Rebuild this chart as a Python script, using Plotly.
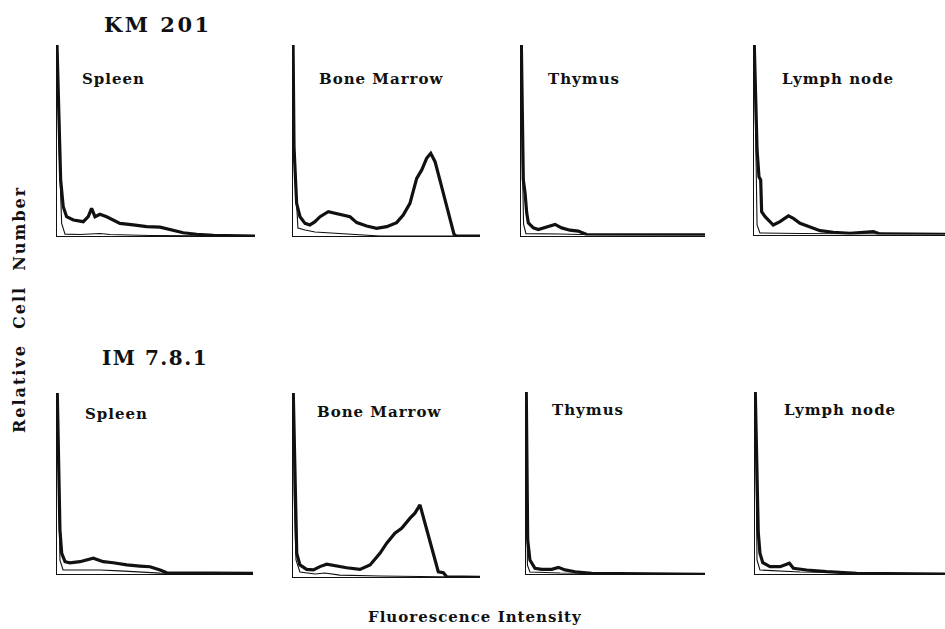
import plotly.graph_objects as go

W, H = 945, 629

# ---------------- data (channel 0-100, relative count 0-100) ----------------
km_spleen_x = [0.15, 1.2, 2.0, 3.3, 5.0, 8.4, 13.4, 15.9, 17.6, 19.3, 21.8, 25.2, 28.5, 31.9, 38.6, 45.4, 52.1, 58.8, 63.8, 70.6, 79.0, 100]
km_spleen_y = [100, 60.7, 29.3, 15.3, 10.1, 8.4, 7.5, 10.1, 14.5, 10.1, 11.4, 10.1, 8.4, 6.6, 5.8, 4.9, 4.6, 3.1, 1.7, 0.9, 0.4, 0]
km_spleen_cx = [0.15, 1.2, 2.5, 4.2, 11.7, 19.3, 21.8, 26.9, 37, 47, 100]
km_spleen_cy = [100, 45, 6.6, 1.0, 0.8, 1.0, 1.3, 0.8, 0.5, 0.3, 0]

km_bm_x = [0.2, 0.7, 2.1, 3.9, 6.6, 9.2, 11.9, 14.6, 19.0, 22.6, 27.0, 30.6, 34.2, 39.5, 44.8, 50.2, 55.5, 59.0, 62.6, 66.2, 68.9, 71.5, 73.7, 76.0, 78.6, 81.3, 84.0, 86.1, 87.2, 100]
km_bm_y = [100, 46.8, 17.1, 10.1, 6.6, 5.8, 7.5, 10.1, 12.7, 11.9, 11.0, 10.1, 7.0, 5.2, 4.0, 4.9, 7.0, 11.0, 17.1, 30.2, 34.6, 40.7, 43.3, 38.9, 29.3, 18.8, 8.4, 1.0, 0, 0]
km_bm_cx = [0.2, 0.8, 2.8, 6.6, 11.9, 19.9, 30.6, 35.9, 46.6, 100]
km_bm_cy = [100, 40, 4.2, 3.1, 2.1, 1.6, 1.0, 0.5, 0, 0]

km_thy_x = [0.2, 0.7, 1.25, 2.2, 3.1, 4.0, 6.7, 9.4, 13.0, 18.5, 22.1, 26.6, 31.1, 35.7, 45.7, 100]
km_thy_y = [100, 60.7, 29.3, 22.4, 11.9, 6.6, 4.0, 3.1, 4.3, 5.8, 4.0, 2.8, 2.3, 0.5, 0.4, 0.3]
km_thy_cx = [0.2, 0.7, 1.4, 2.7, 21, 43, 100]
km_thy_cy = [100, 39.8, 5.8, 1.0, 0.8, 0.3, 0]

km_ln_x = [0.15, 0.8, 1.6, 2.6, 3.5, 4.0, 5.8, 10.1, 13.6, 18.0, 20.6, 24.1, 29.3, 34.6, 41.5, 50.3, 62.5, 66.0, 100]
km_ln_y = [100, 71, 44.6, 30.5, 28.8, 12.0, 9.4, 5.0, 6.8, 9.8, 8.5, 5.9, 4.1, 2.0, 1.2, 0.6, 1.5, 0.3, 0.1]
km_ln_cx = [0.15, 0.8, 1.6, 3.1, 24, 100]
km_ln_cy = [100, 50, 5, 0.8, 0.5, 0]

im_spleen_x = [0.15, 0.8, 1.5, 2.4, 4.1, 6.6, 11.7, 18.5, 23.6, 28.7, 35.6, 42.3, 47.4, 52.6, 56, 100]
im_spleen_y = [100, 57, 24.3, 11.4, 6.8, 6.2, 6.8, 8.7, 6.8, 6.2, 5.0, 4.4, 4.0, 2.2, 0.7, 0.3]
im_spleen_cx = [0.15, 0.8, 1.5, 3.1, 22, 32, 52.6, 100]
im_spleen_cy = [100, 40, 7.7, 2.2, 2.2, 1.7, 0.5, 0]

im_bm_x = [0.15, 0.5, 1.1, 2.0, 3.7, 7.3, 10.9, 14.4, 18.0, 23.4, 28.7, 35.8, 41.2, 46.5, 50.1, 54.5, 58.1, 62.6, 65.2, 67.9, 70.1, 72.4, 75.0, 77.7, 80.4, 82.2, 100]
im_bm_y = [100, 80, 52.9, 13.0, 6.7, 4.3, 4.0, 5.8, 7.1, 6.1, 5.2, 4.3, 6.7, 13.0, 18.5, 23.9, 26.6, 32.1, 34.8, 39.3, 31.1, 23.9, 13.0, 3.0, 2.5, 0.3, 0]
im_bm_cx = [0.15, 0.6, 1.6, 3.7, 11.8, 17, 25, 46.5, 100]
im_bm_cy = [100, 45, 9.4, 2.9, 1.8, 2.3, 1.2, 0.7, 0]

im_thy_x = [0.15, 0.45, 0.95, 2.2, 5.0, 8.8, 14.4, 18.1, 21.8, 27.4, 36.7, 100]
im_thy_y = [100, 68, 18.8, 7.8, 3.3, 2.7, 2.7, 3.8, 2.4, 1.4, 0.5, 0]
im_thy_cx = [0.15, 0.45, 0.8, 2.2, 19, 100]
im_thy_cy = [100, 45, 5, 1.3, 0.7, 0]

im_ln_x = [0.15, 0.5, 1.05, 1.7, 2.6, 4.1, 7.9, 13.2, 18.1, 20.2, 27.2, 37.7, 53.5, 100]
im_ln_y = [100, 79, 51.6, 23.2, 11.4, 6.2, 4.0, 4.0, 5.9, 3.1, 2.2, 1.3, 0.4, 0]
im_ln_cx = [0.15, 0.5, 1.05, 2.6, 23.7, 100]
im_ln_cy = [100, 45, 7.7, 2.2, 1.1, 0]

tissues = ["Spleen", "Bone Marrow", "Thymus", "Lymph node"]
antibodies = ["KM 201", "IM 7.8.1"]

panels = [
    (km_spleen_x, km_spleen_y, km_spleen_cx, km_spleen_cy),
    (km_bm_x, km_bm_y, km_bm_cx, km_bm_cy),
    (km_thy_x, km_thy_y, km_thy_cx, km_thy_cy),
    (km_ln_x, km_ln_y, km_ln_cx, km_ln_cy),
    (im_spleen_x, im_spleen_y, im_spleen_cx, im_spleen_cy),
    (im_bm_x, im_bm_y, im_bm_cx, im_bm_cy),
    (im_thy_x, im_thy_y, im_thy_cx, im_thy_cy),
    (im_ln_x, im_ln_y, im_ln_cx, im_ln_cy),
]

# ---------------- layout geometry (pixels) ----------------
px_left = [56.7, 292.7, 521, 754, 57, 293, 526, 755]
px_right = [255, 480, 705, 945, 253, 480, 705, 945]
px_base = [236, 236, 235.5, 234.5, 574, 577.3, 574.3, 574]
px_top = [45, 45, 45, 45, 393, 393, 392, 392]

label_pos = [(80, 79), (317, 79), (546, 79), (780, 79),
             (83, 414), (315, 412), (550, 410), (782, 410)]

FONT = "DejaVu Serif"
INK = "#111111"


def spaced(txt, ls):
    return f'<b><span style="letter-spacing:{ls}px">{txt}</span></b>'


fig = go.Figure()
layout = dict(
    width=W, height=H, margin=dict(l=0, r=0, t=0, b=0),
    paper_bgcolor="white", plot_bgcolor="white", showlegend=False,
)

annotations = []
for i, (sx, sy, cx, cy) in enumerate(panels):
    n = i + 1
    xa = "x" if n == 1 else f"x{n}"
    ya = "y" if n == 1 else f"y{n}"
    fig.add_trace(go.Scatter(x=cx, y=cy, mode="lines", xaxis=xa, yaxis=ya,
                             line=dict(color=INK, width=1.1), hoverinfo="skip"))
    fig.add_trace(go.Scatter(x=sx, y=sy, mode="lines", xaxis=xa, yaxis=ya,
                             line=dict(color=INK, width=3.2), hoverinfo="skip"))
    axcommon = dict(showgrid=False, zeroline=False, showticklabels=False, ticks="",
                    showline=True, linecolor=INK, linewidth=1.3, fixedrange=True)
    layout["xaxis" if n == 1 else f"xaxis{n}"] = dict(
        domain=[px_left[i] / W, px_right[i] / W], range=[0, 100],
        anchor=ya, **axcommon)
    layout["yaxis" if n == 1 else f"yaxis{n}"] = dict(
        domain=[(H - px_base[i]) / H, (H - px_top[i]) / H], range=[0, 100],
        anchor=xa, **axcommon)
    lx, ly = label_pos[i]
    annotations.append(dict(text=spaced(tissues[i % 4], 1), xref="paper", yref="paper",
                            x=lx / W, y=(H - ly) / H, xanchor="left", yanchor="middle",
                            showarrow=False, font=dict(family=FONT, size=15, color=INK)))

annotations.append(dict(text=spaced(antibodies[0], 2.5), xref="paper", yref="paper",
                        x=102 / W, y=(H - 25) / H, xanchor="left", yanchor="middle",
                        showarrow=False, font=dict(family=FONT, size=21, color=INK)))
annotations.append(dict(text=spaced(antibodies[1], 1.5), xref="paper", yref="paper",
                        x=100 / W, y=(H - 358) / H, xanchor="left", yanchor="middle",
                        showarrow=False, font=dict(family=FONT, size=20, color=INK)))
annotations.append(dict(text=spaced("Relative  Cell  Number", 2), xref="paper", yref="paper",
                        x=19 / W, y=(H - 310) / H, xanchor="center", yanchor="middle",
                        textangle=-90, showarrow=False,
                        font=dict(family=FONT, size=16, color=INK)))
annotations.append(dict(text=spaced("Fluorescence Intensity", 1), xref="paper", yref="paper",
                        x=475 / W, y=(H - 617) / H, xanchor="center", yanchor="middle",
                        showarrow=False, font=dict(family=FONT, size=15, color=INK)))

layout["annotations"] = annotations
fig.update_layout(**layout)
fig.write_html("out.html", config={"displayModeBar": False},
               post_script="document.body.style.margin='0px';document.body.style.padding='0px';document.body.style.overflow='hidden';")
